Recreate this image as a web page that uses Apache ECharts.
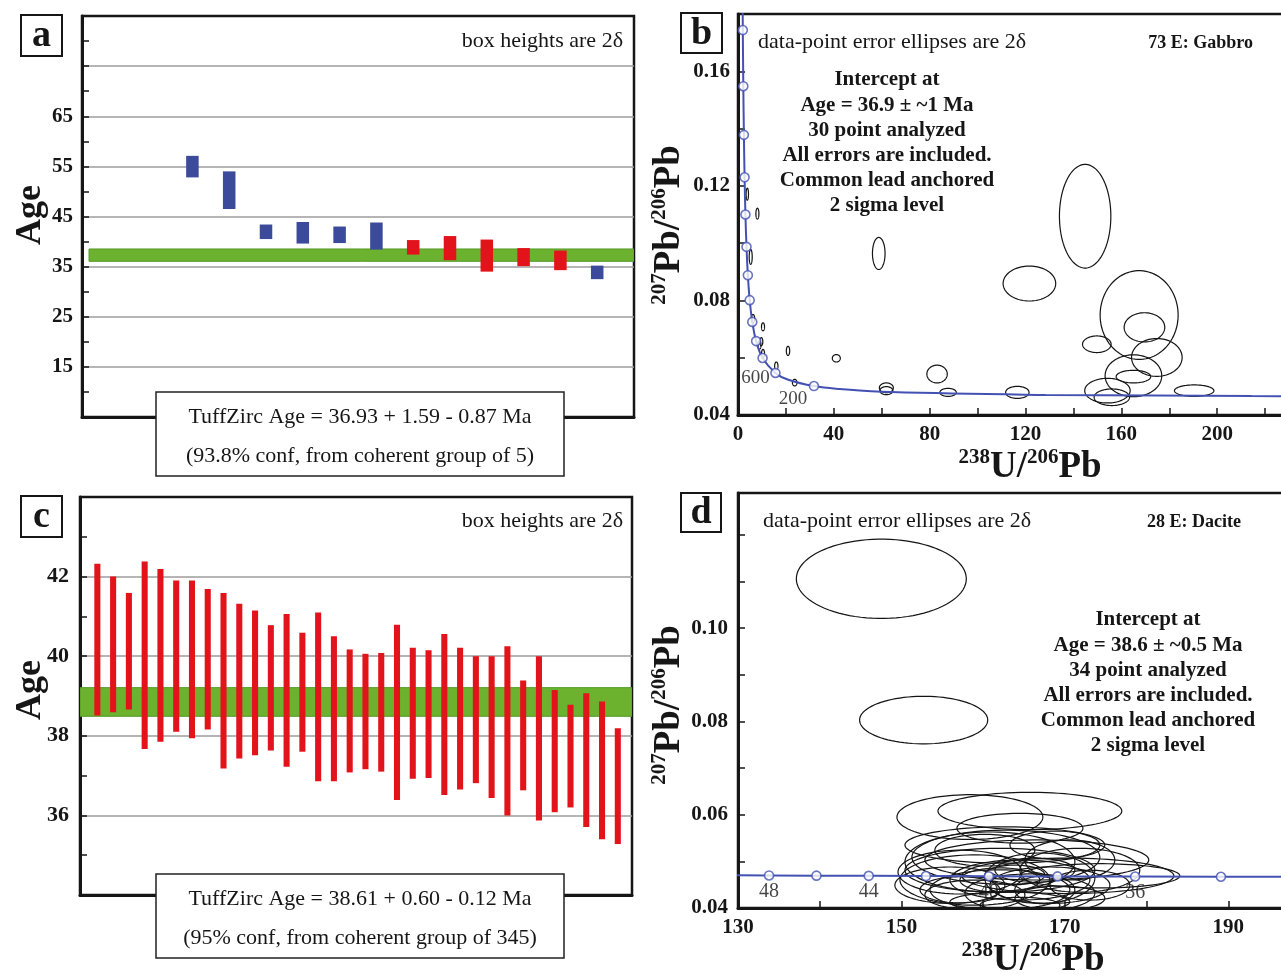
<!DOCTYPE html>
<html>
<head>
<meta charset="utf-8">
<script src="https://cdn.jsdelivr.net/npm/echarts@6/dist/echarts.min.js"></script>
<style>
  html, body { margin: 0; padding: 0; background: #fff; }
  #chart { width: 1281px; height: 975px; }
</style>
</head>
<body>
<div id="chart"></div>
<script>
// ---------- Panel a: 73 E gabbro, single-grain ages (Ma, 2δ boxes) ----------
const aIndex  = [1, 2, 3, 4, 5, 6, 7, 8, 9, 10, 11, 12];
const aTop    = [57.1, 54.0, 43.4, 43.9, 43.0, 43.8, 40.3, 41.1, 40.4, 38.7, 38.2, 35.2];
const aBottom = [52.8, 46.5, 40.5, 39.6, 39.7, 38.4, 37.4, 36.3, 34.0, 35.1, 34.3, 32.5];
const aInGroup = [0, 0, 0, 0, 0, 0, 1, 1, 1, 1, 1, 0];   // 1 = coherent group (red)
const aTuffZirc = [36.06, 38.52];                       // 36.93 -0.87 / +1.59
const aTickLabels = [15, 25, 35, 45, 55, 65];

// ---------- Panel c: 28 E dacite, single-grain ages ----------
const cIndex  = [1, 2, 3, 4, 5, 6, 7, 8, 9, 10, 11, 12, 13, 14, 15, 16, 17,
                 18, 19, 20, 21, 22, 23, 24, 25, 26, 27, 28, 29, 30, 31, 32, 33, 34];
const cTop    = [42.32, 42.0, 41.59, 42.38, 42.19, 41.9, 41.9, 41.69, 41.59, 41.32, 41.15, 40.78,
                 41.06, 40.59, 41.1, 40.5, 40.17, 40.06, 40.08, 40.79, 40.21, 40.15, 40.56, 40.21,
                 40.0, 40.0, 40.25, 39.39, 40.0, 39.15, 38.78, 39.07, 38.86, 38.19];
const cBottom = [38.51, 38.59, 38.66, 37.67, 37.85, 38.1, 37.94, 38.16, 37.18, 37.43, 37.51, 37.63,
                 37.22, 37.6, 36.86, 36.86, 37.08, 37.16, 37.1, 36.39, 36.92, 36.94, 36.51, 36.65,
                 36.81, 36.44, 36.0, 36.63, 35.87, 36.08, 36.2, 35.71, 35.4, 35.28];
const cTuffZirc = [38.49, 39.21];                       // 38.61 -0.12 / +0.60
const cTickLabels = [36, 38, 40, 42];

// ---------- Panel b: Tera-Wasserburg diagram, 73 E gabbro ----------
const bConcX = [1.84, 2.01, 2.22, 2.46, 2.75, 3.10, 3.55, 4.12, 4.89, 5.96, 7.57, 10.25, 15.62,
                21.0, 31.7, 42.5, 64.0, 128.4, 174.2, 214.4, 250];
const bConcY = [0.1968, 0.1744, 0.1548, 0.1378, 0.1230, 0.1100, 0.0987, 0.0888, 0.0801, 0.0725,
                0.0658, 0.0599, 0.0547, 0.0523, 0.0501, 0.0491, 0.0480, 0.0470, 0.0468, 0.0466, 0.04655];
const bMarkAge = [2600, 2400, 2200, 2000, 1800, 1600, 1400, 1200, 1000, 800, 600, 400, 200];
const bMarkX = [2.01, 2.22, 2.46, 2.75, 3.10, 3.55, 4.12, 4.89, 5.96, 7.57, 10.25, 15.62, 31.7];
const bMarkY = [0.1744, 0.1548, 0.1378, 0.1230, 0.1100, 0.0987, 0.0888, 0.0801, 0.0725, 0.0658,
                0.0599, 0.0547, 0.0501];
const bEllX  = [3.88, 8.1, 5.3, 6.26, 10.44, 9.73, 8.98, 10.44, 15.99, 20.88, 23.67, 41.04, 58.75,
                61.92, 61.92, 83.09, 87.68, 116.6, 121.63, 144.89, 167.43, 169.65, 149.77, 174.82,
                165.05, 165.05, 154.2, 156.03, 190.4];
const bEllY  = [0.1171, 0.1103, 0.0952, 0.0737, 0.0708, 0.0656, 0.0644, 0.0615, 0.0571, 0.0624,
                0.0513, 0.0598, 0.0964, 0.0495, 0.0485, 0.0543, 0.0479, 0.0479, 0.0859, 0.1094,
                0.0749, 0.0706, 0.0647, 0.0601, 0.0537, 0.0534, 0.0485, 0.0462, 0.0485];
const bEllRx = [0.5, 0.63, 0.63, 0.7, 0.63, 0.63, 0.63, 0.63, 0.7, 0.7, 0.96, 1.67, 2.63, 2.92, 2.71,
                4.26, 3.42, 4.89, 10.98, 10.73, 16.28, 8.48, 5.97, 10.56, 11.82, 7.22, 9.48, 7.39, 8.23];
const bEllRy = [0.0021, 0.0019, 0.0026, 0.0014, 0.0014, 0.0014, 0.0014, 0.0014, 0.0014, 0.0016,
                0.00115, 0.0013, 0.0056, 0.0017, 0.0014, 0.0031, 0.0014, 0.0021, 0.0061, 0.0181,
                0.0155, 0.0051, 0.0029, 0.0066, 0.0073, 0.0022, 0.0043, 0.0029, 0.0020];
const bTickX = [0, 40, 80, 120, 160, 200];
const bTickY = [0.04, 0.08, 0.12, 0.16];

// ---------- Panel d: Tera-Wasserburg diagram, 28 E dacite ----------
const dConcX = [128, 133.8, 139.6, 146.0, 153.0, 160.7, 169.1, 178.6, 189.1, 202];
const dConcY = [0.04702, 0.04698, 0.04694, 0.0469, 0.04686, 0.04682, 0.04678, 0.04674, 0.0467, 0.04666];
const dMarkAge = [48, 46, 44, 42, 40, 38, 36, 34];
const dMarkX = [133.8, 139.6, 146.0, 153.0, 160.7, 169.1, 178.6, 189.1];
const dMarkY = [0.04698, 0.04694, 0.0469, 0.04686, 0.04682, 0.04678, 0.04674, 0.0467];
const dLabelledAges = [48, 44, 40, 36];
const dEllX  = [147.54, 152.72, 165.72, 158.38, 164.5, 162.78, 166.57, 170.37, 160.83, 162.05, 158.99,
                157.16, 164.5, 168.17, 171.83, 162.05, 165.72, 166.94, 158.99, 169.39, 163.27, 173.06,
                155.93, 166.33, 163.88, 160.21, 168.78, 174.28, 157.16, 162.05, 167.55, 170.61, 162.66, 164.5];
const dEllY  = [0.1106, 0.0803, 0.0608, 0.0595, 0.0571, 0.0509, 0.0503, 0.0469, 0.0499, 0.0481, 0.0460,
                0.0477, 0.0460, 0.0449, 0.0481, 0.0439, 0.0432, 0.0464, 0.0428, 0.0421, 0.0413, 0.0449,
                0.0449, 0.0481, 0.0471, 0.0524, 0.0535, 0.0469, 0.0439, 0.0460, 0.0439, 0.0503, 0.0535, 0.0406];
const dEllRx = [10.4, 7.84, 11.25, 8.93, 7.71, 11.5, 13.7, 12.97, 10.4, 11.62, 9.17, 7.58, 8.56, 7.34,
                7.34, 8.56, 7.95, 6.73, 6.12, 5.5, 7.34, 4.89, 6.73, 4.89, 3.67, 6.12, 5.5, 9.79, 4.89,
                4.89, 3.67, 5.5, 12.23, 4.89];
const dEllRy = [0.0085, 0.0051, 0.0040, 0.0048, 0.0032, 0.0058, 0.0043, 0.0038, 0.0064, 0.0047, 0.0054,
                0.0047, 0.0043, 0.0039, 0.0047, 0.0043, 0.0041, 0.0054, 0.0032, 0.0026, 0.0021, 0.0032,
                0.0039, 0.0026, 0.0021, 0.0034, 0.0030, 0.0026, 0.0028, 0.0026, 0.0030, 0.0043, 0.0039, 0.0017];
const dTickX = [130, 150, 170, 190];
const dTickY = [0.04, 0.06, 0.08, 0.10];

// ---------- styling ----------
const SERIF = '"Liberation Serif", "Times New Roman", Times, serif';
const INK = '#161616';
const BLUE = '#3c4a9b';
const RED = '#e3131b';
const GREEN = '#6cb22f';
const GREEN_EDGE = '#529a26';
const CONC = '#4352b2';

function pickLabel(ticks, fmt) {
  return function (v) {
    return ticks.some(function (t) { return Math.abs(t - v) < 1e-6; }) ? fmt(v) : '';
  };
}

function boxRenderer(widthUnits) {
  return function (params, api) {
    const x = api.value(0);
    const top = api.coord([x, api.value(2)]);
    const bot = api.coord([x, api.value(1)]);
    const w = api.size([widthUnits, 0])[0];
    return {
      type: 'rect',
      shape: { x: top[0] - w / 2, y: top[1], width: w, height: bot[1] - top[1] },
      style: { fill: api.visual('color') }
    };
  };
}

function bandRenderer(insetLeft) {
  return function (params, api) {
    const cs = params.coordSys;
    const yHi = api.coord([0, api.value(1)])[1];
    const yLo = api.coord([0, api.value(0)])[1];
    return {
      type: 'rect',
      shape: { x: cs.x + insetLeft, y: yHi, width: cs.width - insetLeft, height: yLo - yHi },
      style: { fill: GREEN, stroke: GREEN_EDGE, lineWidth: 1 }
    };
  };
}

function ellipseRenderer(params, api) {
  const cx = api.value(0), cy = api.value(1), rx = api.value(2), ry = api.value(3);
  const pts = [];
  for (let k = 0; k < 90; k++) {
    const t = (k / 90) * Math.PI * 2;
    pts.push(api.coord([cx + rx * Math.cos(t), cy + ry * Math.sin(t)]));
  }
  return { type: 'polygon', shape: { points: pts }, style: { fill: 'none', stroke: '#141414', lineWidth: 1.2 } };
}

function zip4(a, b, c, d) { return a.map(function (v, i) { return [v, b[i], c[i], d[i]]; }); }
function zip2(a, b) { return a.map(function (v, i) { return [v, b[i]]; }); }

const lineAxis = { show: true, onZero: false, lineStyle: { color: INK, width: 3 } };
const inTick = { show: true, inside: true, length: 7, lineStyle: { color: INK, width: 1.5 } };
const minor = { show: true, splitNumber: 2, length: 7, lineStyle: { color: INK, width: 1.5 } };
function tickFont(size, margin, formatter) {
  return { show: true, color: INK, fontFamily: SERIF, fontWeight: 'bold', fontSize: size, margin: margin, formatter: formatter };
}
const gridLines = { show: true, showMinLine: false, showMaxLine: false, lineStyle: { color: '#9c9c9c', width: 1.5 } };
const hiddenX = { axisTick: { show: false }, axisLabel: { show: false }, splitLine: { show: false } };

function gridBox(l, t, w, h) {
  return { left: l, top: t, width: w, height: h, show: true, borderColor: INK, borderWidth: 2.5,
           backgroundColor: 'transparent', containLabel: false, outerBoundsMode: 'none' };
}

// ---------- text helpers ----------
function txt(x, y, text, font, align, extra) {
  const el = {
    type: 'text', z: 120, x: x, y: y,
    style: { text: text, font: font, fill: INK, align: align || 'center', textAlign: align || 'center',
             verticalAlign: 'middle', textVerticalAlign: 'middle' }
  };
  return Object.assign(el, extra || {});
}
function block(cx, y0, step, lines, font) {
  return lines.map(function (s, i) { return txt(cx, y0 + i * step, s, font, 'center'); });
}
function letterBox(x, y, w, h, letter) {
  return [
    { type: 'rect', z: 110, shape: { x: x, y: y, width: w, height: h }, style: { fill: '#fff', stroke: INK, lineWidth: 2 } },
    txt(x + w / 2, y + h / 2 + 1, letter, 'bold 38px ' + SERIF, 'center')
  ];
}
function ratioLabel(x, y, top, bottom, rotate) {
  return {
    type: 'text', z: 120, x: x, y: y, rotation: rotate ? Math.PI / 2 : 0,
    style: {
      text: '{s|' + top[0] + '}{b|' + top[1] + '/}{s|' + bottom[0] + '}{b|' + bottom[1] + '}',
      align: 'center', textAlign: 'center', verticalAlign: 'middle', textVerticalAlign: 'middle',
      rich: {
        s: { fontFamily: SERIF, fontWeight: 'bold', fontSize: 21, lineHeight: 22, verticalAlign: 'top', fill: INK },
        b: { fontFamily: SERIF, fontWeight: 'bold', fontSize: 37, lineHeight: 40, fill: INK }
      }
    }
  };
}
function tuffBox(y, lines) {
  return [
    { type: 'rect', z: 110, shape: { x: 156, y: y, width: 408, height: 84 }, style: { fill: '#fff', stroke: '#222', lineWidth: 1.5 } },
    txt(360, y + 25, lines[0], '22px ' + SERIF, 'center'),
    txt(360, y + 64, lines[1], '22px ' + SERIF, 'center')
  ];
}

const interceptB = ['Intercept at', 'Age = 36.9 \u00b1 ~1 Ma', '30 point analyzed',
                    'All errors are included.', 'Common lead anchored', '2 sigma level'];
const interceptD = ['Intercept at', 'Age = 38.6 \u00b1 ~0.5 Ma', '34 point analyzed',
                    'All errors are included.', 'Common lead anchored', '2 sigma level'];

const graphics = [].concat(
  letterBox(21, 15, 41, 41, 'a'),
  letterBox(681, 13, 41, 40, 'b'),
  letterBox(21, 496, 41, 41, 'c'),
  letterBox(681, 493, 40, 39, 'd'),
  [
    txt(623, 41, 'box heights are 2\u03b4', '22px ' + SERIF, 'right'),
    txt(623, 521, 'box heights are 2\u03b4', '22px ' + SERIF, 'right'),
    txt(758, 42, 'data-point error ellipses are 2\u03b4', '22px ' + SERIF, 'left'),
    txt(1253, 43, '73 E: Gabbro', 'bold 18px ' + SERIF, 'right'),
    txt(763, 521, 'data-point error ellipses are 2\u03b4', '22px ' + SERIF, 'left'),
    txt(1241, 522, '28 E: Dacite', 'bold 18px ' + SERIF, 'right'),
    txt(31, 215, 'Age', 'bold 36px ' + SERIF, 'center', { rotation: Math.PI / 2 }),
    txt(31, 690, 'Age', 'bold 36px ' + SERIF, 'center', { rotation: Math.PI / 2 }),
    ratioLabel(1030, 467, ['238', 'U'], ['206', 'Pb'], false),
    ratioLabel(1033, 960, ['238', 'U'], ['206', 'Pb'], false),
    ratioLabel(669, 225, ['207', 'Pb'], ['206', 'Pb'], true),
    ratioLabel(669, 705, ['207', 'Pb'], ['206', 'Pb'], true)
  ],
  block(887, 80, 25.2, interceptB, 'bold 21px ' + SERIF),
  block(1148, 620, 25.2, interceptD, 'bold 21px ' + SERIF),
  tuffBox(392, ['TuffZirc Age = 36.93 + 1.59 - 0.87 Ma', '(93.8% conf, from coherent group of 5)']),
  tuffBox(874, ['TuffZirc Age = 38.61 + 0.60 - 0.12 Ma', '(95% conf, from coherent group of 345)'])
);

// ---------- marker labels on the concordia curves ----------
const bLabelOffsets = { 600: [-7, 5], 200: [-21, -2] };
const bMarkers = bMarkX.map(function (x, i) {
  const age = bMarkAge[i];
  const item = { value: [x, bMarkY[i]] };
  if (bLabelOffsets[age]) {
    item.label = { show: true, position: 'bottom', distance: 0, offset: bLabelOffsets[age],
                   formatter: String(age), color: INK, fontFamily: SERIF, fontSize: 19 };
  }
  return item;
});
const dMarkers = dMarkX.map(function (x, i) {
  const age = dMarkAge[i];
  const item = { value: [x, dMarkY[i]] };
  if (dLabelledAges.indexOf(age) >= 0) {
    item.label = { show: true, position: 'bottom', distance: 1, formatter: String(age),
                   color: INK, fontFamily: SERIF, fontSize: 20 };
  }
  return item;
});
const markerStyle = { color: '#fff', borderColor: CONC, borderWidth: 1.6 };

const option = {
  animation: false,
  backgroundColor: '#fff',
  grid: [
    gridBox(82, 16, 552, 401),
    gridBox(738, 14, 575, 401),
    gridBox(80, 497, 552, 398),
    gridBox(738, 493, 572, 415)
  ],
  xAxis: [
    Object.assign({ gridIndex: 0, type: 'value', min: -2, max: 13, axisLine: lineAxis }, hiddenX),
    { gridIndex: 1, type: 'value', min: 0, max: 240, interval: 20, axisLine: lineAxis, axisTick: inTick,
      axisLabel: tickFont(21, 9, pickLabel(bTickX, String)), splitLine: { show: false } },
    Object.assign({ gridIndex: 2, type: 'value', min: -0.1, max: 34.9, axisLine: lineAxis }, hiddenX),
    { gridIndex: 3, type: 'value', min: 130, max: 200, interval: 10, axisLine: lineAxis, axisTick: inTick,
      axisLabel: tickFont(21, 9, pickLabel(dTickX, String)), splitLine: { show: false } }
  ],
  yAxis: [
    { gridIndex: 0, type: 'value', min: 5, max: 85, interval: 10, axisLine: lineAxis, axisTick: inTick,
      minorTick: minor, axisLabel: tickFont(21, 9, pickLabel(aTickLabels, String)), splitLine: gridLines },
    { gridIndex: 1, type: 'value', min: 0.04, max: 0.18, interval: 0.02, axisLine: lineAxis, axisTick: inTick,
      axisLabel: tickFont(21, 8, pickLabel(bTickY, function (v) { return v.toFixed(2); })), splitLine: { show: false } },
    { gridIndex: 2, type: 'value', min: 34, max: 44, interval: 2, axisLine: lineAxis, axisTick: inTick,
      minorTick: minor, axisLabel: tickFont(22, 11, pickLabel(cTickLabels, String)), splitLine: gridLines },
    { gridIndex: 3, type: 'value', min: 0.04, max: 0.129, interval: 0.01, axisLine: lineAxis, axisTick: inTick,
      axisLabel: tickFont(21, 10, pickLabel(dTickY, function (v) { return v.toFixed(2); })), splitLine: { show: false } }
  ],
  series: [
    // panel a
    { type: 'custom', xAxisIndex: 0, yAxisIndex: 0, z: 1, silent: true, clip: true,
      renderItem: bandRenderer(7), data: [aTuffZirc] },
    { type: 'custom', xAxisIndex: 0, yAxisIndex: 0, z: 3, silent: true, clip: true,
      renderItem: boxRenderer(0.34),
      data: aIndex.map(function (x, i) {
        return { value: [x, aBottom[i], aTop[i]], itemStyle: { color: aInGroup[i] ? RED : BLUE } };
      }) },
    // panel c
    { type: 'custom', xAxisIndex: 2, yAxisIndex: 2, z: 1, silent: true, clip: true,
      renderItem: bandRenderer(0), data: [cTuffZirc] },
    { type: 'custom', xAxisIndex: 2, yAxisIndex: 2, z: 3, silent: true, clip: true,
      renderItem: boxRenderer(0.385),
      data: cIndex.map(function (x, i) { return { value: [x, cBottom[i], cTop[i]], itemStyle: { color: RED } }; }) },
    // panel b
    { type: 'custom', xAxisIndex: 1, yAxisIndex: 1, z: 3, silent: true, clip: true,
      renderItem: ellipseRenderer, data: zip4(bEllX, bEllY, bEllRx, bEllRy) },
    { type: 'line', xAxisIndex: 1, yAxisIndex: 1, z: 4, silent: true, clip: true, smooth: 0.4,
      showSymbol: false, symbol: 'none', lineStyle: { color: CONC, width: 2 }, data: zip2(bConcX, bConcY) },
    { type: 'scatter', xAxisIndex: 1, yAxisIndex: 1, z: 5, silent: true, symbol: 'circle', symbolSize: 9,
      itemStyle: markerStyle, data: bMarkers },
    // panel d
    { type: 'custom', xAxisIndex: 3, yAxisIndex: 3, z: 3, silent: true, clip: true,
      renderItem: ellipseRenderer, data: zip4(dEllX, dEllY, dEllRx, dEllRy) },
    { type: 'line', xAxisIndex: 3, yAxisIndex: 3, z: 4, silent: true, clip: true, smooth: false,
      showSymbol: false, symbol: 'none', lineStyle: { color: CONC, width: 2 }, data: zip2(dConcX, dConcY) },
    { type: 'scatter', xAxisIndex: 3, yAxisIndex: 3, z: 5, silent: true, symbol: 'circle', symbolSize: 9,
      itemStyle: markerStyle, data: dMarkers }
  ],
  graphic: graphics
};

const chart = echarts.init(document.getElementById('chart'), null, { renderer: 'canvas' });
chart.setOption(option);
</script>
</body>
</html>
